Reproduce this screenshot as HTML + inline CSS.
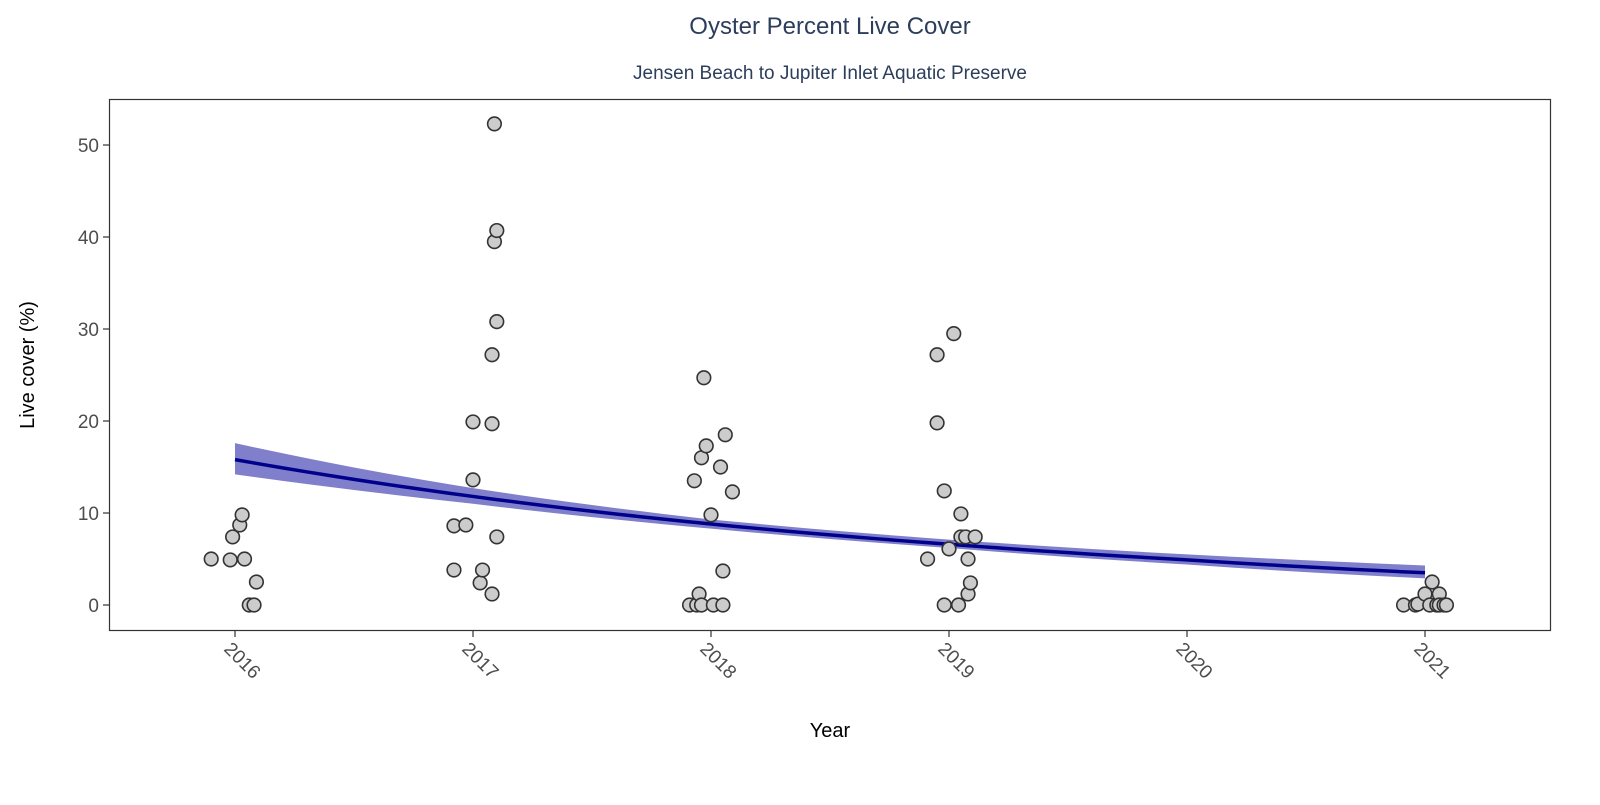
<!DOCTYPE html>
<html><head><meta charset="utf-8"><style>
body{margin:0;background:#fff;font-family:"Liberation Sans",Arial,sans-serif}
</style></head><body>
<svg id="chart" width="1600" height="800" xmlns="http://www.w3.org/2000/svg">
<text x="830" y="34" text-anchor="middle" font-size="24" fill="#2c3e5c">Oyster Percent Live Cover</text>
<text x="830" y="79" text-anchor="middle" font-size="19" fill="#2c3e5c">Jensen Beach to Jupiter Inlet Aquatic Preserve</text>
<rect x="109.5" y="99.5" width="1441" height="531" fill="none" stroke="#333" stroke-width="1.2"/>
<g id="yaxis"></g>
<g id="xaxis"></g>
<g id="band"></g>
<g id="pts"></g>
<text x="830" y="737" text-anchor="middle" font-size="20" fill="#000">Year</text>
<text transform="translate(34,365) rotate(-90)" text-anchor="middle" font-size="20" fill="#000">Live cover (%)</text>
</svg>
<script>
const yTicks=[0,10,20,30,40,50];
const xTicks=[2016,2017,2018,2019,2020,2021];
const ptYear=[2015.90,2015.98,2015.99,2016.02,2016.03,2016.04,2016.06,2016.08,2016.09,
2016.92,2016.92,2016.97,2017.00,2017.00,2017.03,2017.04,2017.08,2017.08,2017.08,2017.09,2017.09,2017.10,2017.10,2017.10,
2017.91,2017.93,2017.94,2017.95,2017.96,2017.96,2017.97,2017.98,2018.00,2018.01,2018.04,2018.05,2018.05,2018.06,2018.09,
2018.91,2018.95,2018.95,2018.98,2018.98,2019.00,2019.02,2019.04,2019.05,2019.05,2019.07,2019.08,2019.08,2019.09,2019.11,
2020.91,2020.96,2020.97,2021.00,2021.02,2021.03,2021.05,2021.05,2021.06,2021.06,2021.08,2021.09];
const ptCover=[5.0,4.9,7.4,8.7,9.8,5.0,0,0,2.5,
3.8,8.6,8.7,13.6,19.9,2.4,3.8,1.2,19.7,27.2,52.3,39.5,40.7,7.4,30.8,
0,13.5,0,1.2,16,0,24.7,17.3,9.8,0,15,0,3.7,18.5,12.3,
5.0,27.2,19.8,0,12.4,6.1,29.5,0,7.4,9.9,7.4,5.0,1.2,2.4,7.4,
0,0,0.1,1.2,0,2.5,0,0,1.2,0,0,0];
const trendYear=[2016,2017,2018,2019,2020,2021];
const trendFit=[15.8,11.8,8.8,6.6,4.9,3.5];
const trendLo=[14.2,11.0,8.3,6.2,4.4,2.9];
const trendHi=[17.6,12.7,9.3,7.1,5.5,4.3];
const X=v=>235+(v-2016)*238, Y=v=>605-v*9.2;
const NS="http://www.w3.org/2000/svg";
function mk(t,a,p){const e=document.createElementNS(NS,t);for(const k in a)e.setAttribute(k,a[k]);p.appendChild(e);return e;}
const ya=document.getElementById('yaxis');
yTicks.forEach(t=>{
 const l=mk('line',{x1:103,x2:109,y1:Y(t),y2:Y(t),stroke:'#333','stroke-width':1.2},ya);
 
 
 const s=mk('text',{x:99,y:Y(t)+7,'text-anchor':'end','font-size':19,fill:'#4d4d4d'},ya);s.textContent=t;
 
 
});
const xa=document.getElementById('xaxis');
xTicks.forEach(t=>{
 const l=mk('line',{x1:X(t),x2:X(t),y1:631,y2:637,stroke:'#333','stroke-width':1.2},xa);
 
 
 const s=mk('text',{transform:`translate(${X(t)-12},${650}) rotate(45)`,'font-size':19,fill:'#4d4d4d'},xa);s.textContent=t;
 
 
});
// smooth via interpolation of log values
function interp(arr,x){const i=Math.min(Math.floor(x-2016),4);const f=x-2016-i;return Math.exp(Math.log(arr[i])*(1-f)+Math.log(arr[i+1])*f);}
const b=document.getElementById('band');
let up=[],dn=[],fl=[];
for(let k=0;k<=50;k++){const x=2016+k*0.1;up.push(X(x)+','+Y(interp(trendHi,x)));dn.unshift(X(x)+','+Y(interp(trendLo,x)));fl.push(X(x)+','+Y(interp(trendFit,x)));}
const poly=mk('polygon',{points:up.concat(dn).join(' '),fill:'#7f7fcc'},b);


const line=mk('polyline',{points:fl.join(' '),fill:'none',stroke:'#00008b','stroke-width':3.5},b);


const pg=document.getElementById('pts');
ptYear.forEach((y,i)=>{
 const c=mk('circle',{cx:X(y),cy:Y(ptCover[i]),r:6.8,fill:'#cccccc',stroke:'#333','stroke-width':1.6},pg);
 
 
});
</script>
</body></html>
